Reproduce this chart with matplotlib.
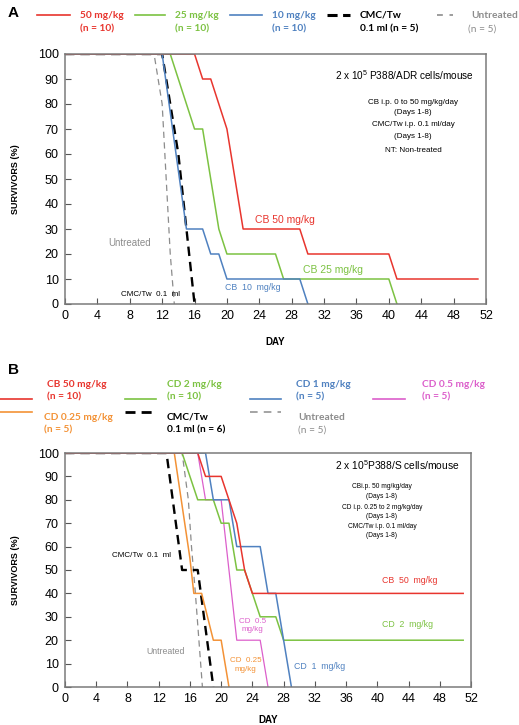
import numpy as np
import matplotlib
matplotlib.use('Agg')
import matplotlib.pyplot as plt

plt.rcParams['font.family'] = ['Liberation Sans', 'DejaVu Sans']
plt.rcParams['mathtext.fontset'] = 'custom'
plt.rcParams['mathtext.rm'] = 'Liberation Sans'

W, H = 519, 725

# ---- panel A data (day, % survivors) ----
A_days_cb50 = [0, 16, 17, 18, 20, 22, 29, 30, 40, 41, 51]
A_surv_cb50 = [100, 100, 90, 90, 70, 30, 30, 20, 20, 10, 10]
A_days_cb25 = [0, 13, 16, 17, 19, 20, 26, 27, 40, 41]
A_surv_cb25 = [100, 100, 70, 70, 30, 20, 20, 10, 10, 0]
A_days_cb10 = [0, 12, 15, 17, 18, 19, 20, 29, 30]
A_surv_cb10 = [100, 100, 30, 30, 20, 20, 10, 10, 0]
A_days_cmc = [0, 12, 13, 14, 15, 16]
A_surv_cmc = [100, 100, 80, 60, 30, 0]
A_days_unt = [1, 11, 12, 13, 13.5]
A_surv_unt = [100, 100, 80, 20, 0]

# ---- panel B data ----
B_days_cb50 = [0, 17, 18, 20, 21, 22, 23, 24, 51]
B_surv_cb50 = [100, 100, 90, 90, 80, 70, 50, 40, 40]
B_days_cd2 = [0, 15, 17, 19, 20, 21, 22, 23, 25, 27, 28, 51]
B_surv_cd2 = [100, 100, 80, 80, 70, 70, 50, 50, 30, 30, 20, 20]
B_days_cd1 = [0, 18, 19, 21, 22, 25, 26, 27, 29]
B_surv_cd1 = [100, 100, 80, 80, 60, 60, 40, 40, 0]
B_days_cd05 = [0, 17, 18, 20, 22, 25, 26]
B_surv_cd05 = [100, 100, 80, 80, 20, 20, 0]
B_days_cd025 = [0, 14, 16, 16.5, 17.5, 19, 20, 21]
B_surv_cd025 = [100, 100, 55, 40, 40, 20, 20, 0]
B_days_cmc = [0, 13, 15, 17, 19]
B_surv_cmc = [100, 100, 50, 50, 0]
B_days_unt = [1, 15, 15.8, 16.2, 16.7, 17.6]
B_surv_unt = [100, 100, 80, 60, 40, 0]

x_ticks = np.arange(0, 53, 4)
y_ticks = np.arange(0, 101, 10)

RED = '#e8352e'
GREEN = '#7cc242'
BLUE = '#4f81c0'
MAGENTA = '#dc5fcb'
ORANGE = '#f39236'
GRAY = '#8c8c8c'

sty = {
    'red': dict(color=RED, lw=1.1, ls='-'),
    'green': dict(color=GREEN, lw=1.1, ls='-'),
    'blue': dict(color=BLUE, lw=1.1, ls='-'),
    'magenta': dict(color=MAGENTA, lw=0.9, ls='-'),
    'orange': dict(color=ORANGE, lw=1.1, ls='-'),
    'black': dict(color='black', lw=1.7, ls=(0, (4, 2.5))),
    'gray': dict(color=GRAY, lw=0.9, ls=(0, (5, 3.5))),
}

fig = plt.figure(figsize=(W / 100, H / 100), dpi=100)


def px_axes(l, t, r, b):
    return fig.add_axes([l / W, 1 - b / H, (r - l) / W, (b - t) / H])


def style_axes(ax, xlab_y, ylab_x):
    ax.set_xlim(0, 52)
    ax.set_ylim(0, 100)
    ax.set_xticks(x_ticks)
    ax.set_yticks(y_ticks)
    ax.tick_params(direction='in', length=4, width=0.8, color='#555555',
                   labelsize=9, pad=4.5)
    for s in ax.spines.values():
        s.set_color('#7a7a7a')
        s.set_linewidth(1.1)
    ax.set_xlabel('DAY', fontsize=7, fontweight='bold')
    ax.xaxis.set_label_coords(0.5, xlab_y)
    ax.xaxis.label.set_va('center')
    ax.set_ylabel('SURVIVORS (%)', fontsize=6.5, fontweight='bold')
    ax.yaxis.set_label_coords(ylab_x, 0.5)
    ax.yaxis.label.set_va('center')


# ---------------- panel A ----------------
axA = px_axes(65, 54, 486, 304)
axA.plot(A_days_unt, A_surv_unt, **sty['gray'])
axA.plot(A_days_cmc, A_surv_cmc, **sty['black'])
axA.plot(A_days_cb25, A_surv_cb25, **sty['green'])
axA.plot(A_days_cb10, A_surv_cb10, **sty['blue'])
axA.plot(A_days_cb50, A_surv_cb50, **sty['red'])
style_axes(axA, (304 - 342) / 250, (15 - 65) / 421)

axA.text(23.5, 33.6, 'CB 50 mg/kg', color=RED, fontsize=7.5, va='center')
axA.text(29.4, 13.6, 'CB 25 mg/kg', color=GREEN, fontsize=7.5, va='center')
axA.text(19.8, 6.8, 'CB  10  mg/kg', color=BLUE, fontsize=6.3, va='center')
axA.text(8, 24.4, 'Untreated', color=GRAY, fontsize=7, ha='center', va='center')
axA.text(10.5, 3.6, 'CMC/Tw  0.1  ml', color='black', fontsize=5.8,
         ha='center', va='center')
axA.text(41.9, 91.6, '2 x 10$^5$ P388/ADR cells/mouse', fontsize=7.2,
         ha='center', va='center')
A_notes = ['CB i.p. 0 to 50 mg/kg/day', '(Days 1-8)', 'CMC/Tw i.p. 0.1 ml/day',
           '(Days 1-8)', 'NT: Non-treated']
A_note_y = [80.8, 76.4, 71.6, 66.8, 61.6]
for t, y in zip(A_notes, A_note_y):
    axA.text(43, y, t, fontsize=5.8, ha='center', va='center')

# ---------------- panel B ----------------
axB = px_axes(65, 453, 471, 687)
axB.plot(B_days_unt, B_surv_unt, **sty['gray'])
axB.plot(B_days_cmc, B_surv_cmc, **sty['black'])
axB.plot(B_days_cd025, B_surv_cd025, **sty['orange'])
axB.plot(B_days_cd05, B_surv_cd05, **sty['magenta'])
axB.plot(B_days_cd2, B_surv_cd2, **sty['green'])
axB.plot(B_days_cd1, B_surv_cd1, **sty['blue'])
axB.plot(B_days_cb50, B_surv_cb50, **sty['red'])
style_axes(axB, (687 - 720) / 234, (15 - 65) / 406)

axB.text(9.8, 56.3, 'CMC/Tw  0.1  ml', fontsize=5.8, ha='center', va='center')
axB.text(12.9, 15, 'Untreated', color=GRAY, fontsize=6.3, ha='center', va='center')
axB.text(24, 26.2, 'CD  0.5\nmg/kg', color=MAGENTA, fontsize=5.8, ha='center',
         va='center', linespacing=1.3)
axB.text(23.1, 9.4, 'CD  0.25\nmg/kg', color=ORANGE, fontsize=5.8, ha='center',
         va='center', linespacing=1.3)
axB.text(44.1, 45.3, 'CB  50  mg/kg', color=RED, fontsize=6.3, ha='center', va='center')
axB.text(43.9, 26.6, 'CD  2  mg/kg', color=GREEN, fontsize=6.3, ha='center', va='center')
axB.text(32.6, 8.7, 'CD  1  mg/kg', color=BLUE, fontsize=6.3, ha='center', va='center')
axB.text(42.5, 94.7, '2 x 10$^5$P388/S cells/mouse', fontsize=7.4,
         ha='center', va='center')
B_notes = ['CBi.p. 50 mg/kg/day', '(Days 1-8)', 'CD i.p. 0.25 to 2 mg/kg/day',
           '(Days 1-8)', 'CMC/Tw i.p. 0.1 ml/day', '(Days 1-8)']
B_note_y = [85.5, 81.2, 76.9, 72.9, 68.8, 64.7]
for t, y in zip(B_notes, B_note_y):
    axB.text(40.6, y, t, fontsize=4.8, ha='center', va='center')

# ---------------- legends (pixel overlay) ----------------
lax = fig.add_axes([0, 0, 1, 1])
lax.set_xlim(0, W)
lax.set_ylim(H, 0)
lax.axis('off')

lfont = dict(family=['Lato', 'DejaVu Sans'], fontweight='bold', fontsize=7.3)

lax.text(8, 13, 'A', fontsize=11, fontweight='bold', va='center')
lax.text(8, 370, 'B', fontsize=11, fontweight='bold', va='center')

A_leg_keys = ['red', 'green', 'blue', 'black', 'gray']
A_leg_labels = ['50 mg/kg', '25 mg/kg', '10 mg/kg', 'CMC/Tw', 'Untreated']
A_leg_n = ['(n = 10)', '(n = 10)', '(n = 10)', '0.1 ml (n = 5)', '(n = 5)']
A_leg_colors = [RED, GREEN, BLUE, 'black', GRAY]
A_line_x = [(37, 70), (135, 165), (230, 262), (327, 350), (437, 453)]
A_text_x = [80, 175, 272, 360, 471]
A_n_x = [80, 175, 272, 360, 468]
for k, lab, n, c, lx, tx, nx in zip(A_leg_keys, A_leg_labels, A_leg_n, A_leg_colors,
                                     A_line_x, A_text_x, A_n_x):
    s = dict(sty[k])
    if k == 'black':
        s.update(lw=2.2, ls=(0, (3.3, 1.8)))
    elif k == 'gray':
        s.update(lw=1.2, ls=(0, (3.5, 4)))
    else:
        s.update(lw=1.2)
    lax.plot(lx, [15, 15], **s)
    lax.text(tx, 15, lab, color=c, va='center', **lfont)
    lax.text(nx, 29, n, color=c, va='center',
             family=['Lato', 'DejaVu Sans'], fontsize=7.3,
             fontweight='normal' if k == 'gray' else 'bold')

B_leg_keys = ['red', 'green', 'blue', 'magenta', 'orange', 'black', 'gray']
B_leg_labels = ['CB 50 mg/kg', 'CD 2 mg/kg', 'CD 1 mg/kg', 'CD 0.5 mg/kg',
                'CD 0.25 mg/kg', 'CMC/Tw', 'Untreated']
B_leg_n = ['(n = 10)', '(n = 10)', '(n = 5)', '(n = 5)', '(n = 5)',
           '0.1 ml (n = 6)', '(n = 5)']
B_leg_colors = [RED, GREEN, BLUE, MAGENTA, ORANGE, 'black', GRAY]
B_line_x = [(0, 32), (125, 156), (250, 281), (373, 405), (0, 32), (125, 156), (250, 281)]
B_line_y = [399, 399, 399, 399, 412, 412, 412]
B_text_x = [47, 167, 296, 422, 44, 167, 298]
B_text_y = [384, 384, 384, 384, 417, 417, 417]
for k, lab, n, c, lx, ly, tx, ty in zip(B_leg_keys, B_leg_labels, B_leg_n, B_leg_colors,
                                         B_line_x, B_line_y, B_text_x, B_text_y):
    s = dict(sty[k])
    if k == 'black':
        s.update(lw=2.0, ls=(0, (3.6, 2.2)))
    elif k == 'gray':
        s.update(lw=1.1, ls=(0, (5, 4)))
    else:
        s.update(lw=1.2)
    lax.plot(lx, [ly, ly], **s)
    lax.text(tx, ty, lab, color=c, va='center', **lfont)
    lax.text(tx, ty + 13, n, color=c, va='center',
             family=['Lato', 'DejaVu Sans'], fontsize=7.3,
             fontweight='normal' if k == 'gray' else 'bold')

fig.savefig('out.png', dpi=100)
